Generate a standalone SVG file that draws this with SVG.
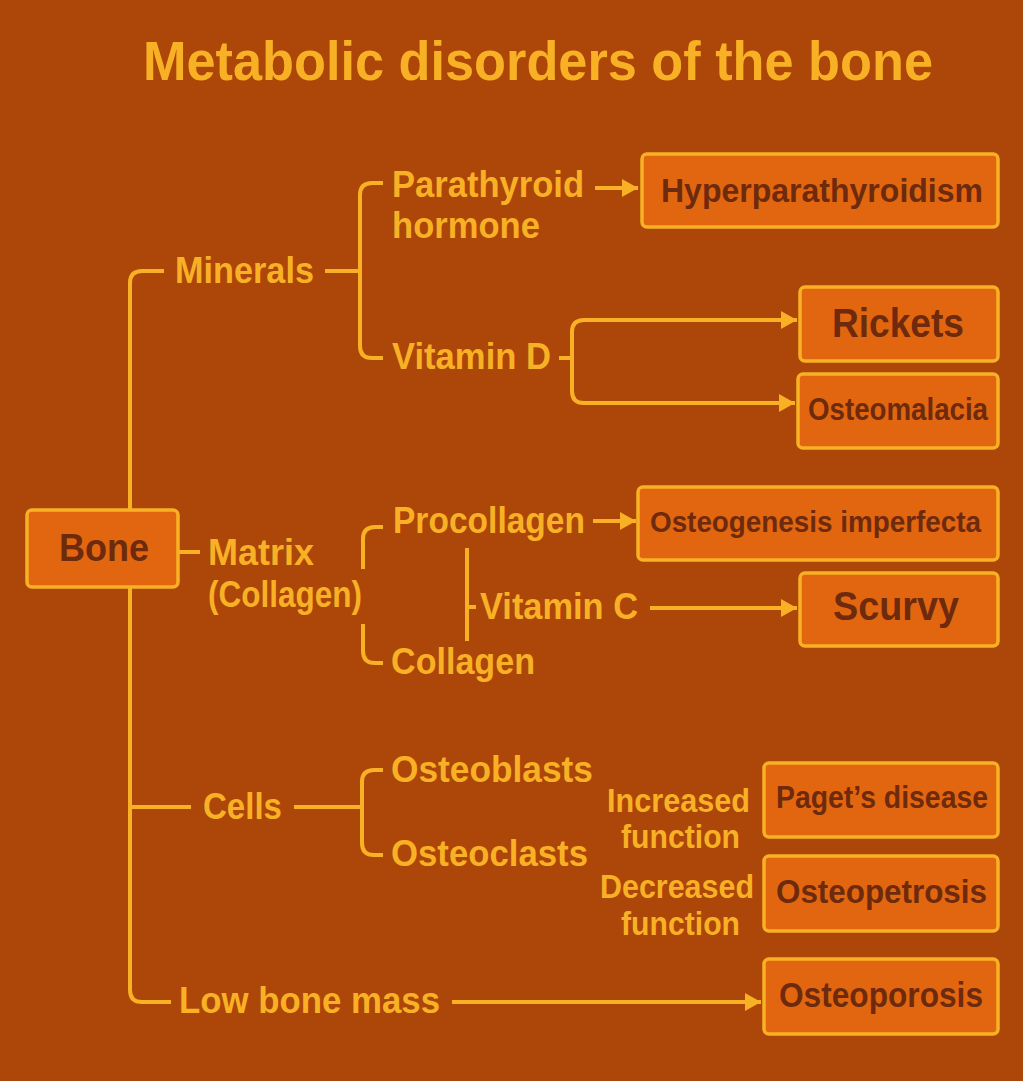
<svg xmlns="http://www.w3.org/2000/svg" width="1023" height="1081" viewBox="0 0 1023 1081">
<defs>
<style>
.bg{fill:#AD4609}
.t{font-family:"Liberation Sans",Arial,sans-serif;font-weight:bold;fill:#F8B125;font-size:36px}
.s{font-size:33px}
.bt{font-family:"Liberation Sans",Arial,sans-serif;font-weight:bold;fill:#6E2A0D}
.box{fill:#E2660F;stroke:#F8B125;stroke-width:3.5}
.ln{fill:none;stroke:#F8B125;stroke-width:4;stroke-linecap:butt;stroke-linejoin:round}
.ar{marker-end:url(#ah)}
</style>
<marker id="ah" markerUnits="userSpaceOnUse" markerWidth="18" markerHeight="20" viewBox="0 0 18 20" refX="16" refY="10" orient="auto">
<path d="M0,1 L16,10 L0,19 Z" fill="#F8B125"/>
</marker>
</defs>
<rect class="bg" x="0" y="0" width="1023" height="1081"/>
<text class="t" x="143" y="80" style="font-size:55px" textLength="790" lengthAdjust="spacingAndGlyphs">Metabolic disorders of the bone</text>

<g id="connectors">
<path class="ln" d="M164,271 H142 Q130,271 130,283 V510"/>
<path class="ln" d="M130,587 V990 Q130,1002 142,1002 H171"/>
<path class="ln" d="M130,807 H191"/>
<path class="ln" d="M325,271 H360"/>
<path class="ln" d="M383,183 H372 Q360,183 360,195 V346 Q360,358 372,358 H383"/>
<path class="ln ar" d="M595,188 H638"/>
<path class="ln" d="M559,358 H572"/>
<path class="ln ar" d="M572,358 V332 Q572,320 584,320 H797"/>
<path class="ln ar" d="M572,358 V391 Q572,403 584,403 H795"/>
<path class="ln" d="M179,552 H200"/>
<path class="ln" d="M363,569 V539 Q363,527 375,527 H383"/>
<path class="ln" d="M363,624 V651 Q363,663 375,663 H383"/>
<path class="ln ar" d="M593,521 H636"/>
<path class="ln" d="M467,548 V641"/>
<path class="ln" d="M467,607 H476"/>
<path class="ln ar" d="M650,608 H797"/>
<path class="ln" d="M294,807 H362"/>
<path class="ln" d="M383,770 H374 Q362,770 362,782 V843 Q362,855 374,855 H383"/>
<path class="ln ar" d="M452,1002 H761"/>
</g>

<g id="bone">
<rect class="box" x="27" y="510" width="151" height="77" rx="5"/>
<text class="bt" x="59" y="561" font-size="38" textLength="90" lengthAdjust="spacingAndGlyphs">Bone</text>
</g>
<g id="minerals"><text class="t" x="175" y="283" textLength="139" lengthAdjust="spacingAndGlyphs">Minerals</text></g>
<g id="parathyroid">
<text class="t" x="392" y="197" textLength="192" lengthAdjust="spacingAndGlyphs">Parathyroid</text>
<text class="t" x="392" y="238" textLength="148" lengthAdjust="spacingAndGlyphs">hormone</text>
</g>
<g id="vitamin-d"><text class="t" x="392" y="369" textLength="159" lengthAdjust="spacingAndGlyphs">Vitamin D</text></g>
<g id="hyperparathyroidism">
<rect class="box" x="642" y="154" width="356" height="73" rx="5"/>
<text class="bt" x="661" y="202" font-size="33" textLength="322" lengthAdjust="spacingAndGlyphs">Hyperparathyroidism</text>
</g>
<g id="rickets">
<rect class="box" x="800" y="287" width="198" height="74" rx="5"/>
<text class="bt" x="832" y="337" font-size="41" textLength="132" lengthAdjust="spacingAndGlyphs">Rickets</text>
</g>
<g id="osteomalacia">
<rect class="box" x="798" y="374" width="200" height="74" rx="5"/>
<text class="bt" x="808" y="420" font-size="31" textLength="180" lengthAdjust="spacingAndGlyphs">Osteomalacia</text>
</g>
<g id="matrix">
<text class="t" x="208" y="565" textLength="106" lengthAdjust="spacingAndGlyphs">Matrix</text>
<text class="t" x="208" y="607" textLength="154" lengthAdjust="spacingAndGlyphs">(Collagen)</text>
</g>
<g id="procollagen"><text class="t" x="393" y="533" textLength="192" lengthAdjust="spacingAndGlyphs">Procollagen</text></g>
<g id="collagen"><text class="t" x="391" y="674" textLength="144" lengthAdjust="spacingAndGlyphs">Collagen</text></g>
<g id="vitamin-c"><text class="t" x="480" y="619" textLength="158" lengthAdjust="spacingAndGlyphs">Vitamin C</text></g>
<g id="osteogenesis-imperfecta">
<rect class="box" x="638" y="487" width="360" height="73" rx="5"/>
<text class="bt" x="650" y="532" font-size="29" textLength="331" lengthAdjust="spacingAndGlyphs">Osteogenesis imperfecta</text>
</g>
<g id="scurvy">
<rect class="box" x="800" y="573" width="198" height="73" rx="5"/>
<text class="bt" x="833" y="620" font-size="40" textLength="126" lengthAdjust="spacingAndGlyphs">Scurvy</text>
</g>
<g id="cells"><text class="t" x="203" y="819" textLength="79" lengthAdjust="spacingAndGlyphs">Cells</text></g>
<g id="osteoblasts"><text class="t" x="391" y="782" textLength="202" lengthAdjust="spacingAndGlyphs">Osteoblasts</text></g>
<g id="osteoclasts"><text class="t" x="391" y="866" textLength="197" lengthAdjust="spacingAndGlyphs">Osteoclasts</text></g>
<g id="increased-function">
<text class="t s" x="607" y="812" textLength="143" lengthAdjust="spacingAndGlyphs">Increased</text>
<text class="t s" x="621" y="848" textLength="119" lengthAdjust="spacingAndGlyphs">function</text>
</g>
<g id="decreased-function">
<text class="t s" x="600" y="898" textLength="154" lengthAdjust="spacingAndGlyphs">Decreased</text>
<text class="t s" x="621" y="935" textLength="119" lengthAdjust="spacingAndGlyphs">function</text>
</g>
<g id="pagets-disease">
<rect class="box" x="764" y="763" width="234" height="74" rx="5"/>
<text class="bt" x="776" y="808" font-size="32" textLength="212" lengthAdjust="spacingAndGlyphs">Paget’s disease</text>
</g>
<g id="osteopetrosis">
<rect class="box" x="764" y="856" width="234" height="75" rx="5"/>
<text class="bt" x="776" y="903" font-size="34" textLength="211" lengthAdjust="spacingAndGlyphs">Osteopetrosis</text>
</g>
<g id="low-bone-mass"><text class="t" x="179" y="1013" textLength="261" lengthAdjust="spacingAndGlyphs">Low bone mass</text></g>
<g id="osteoporosis">
<rect class="box" x="764" y="959" width="234" height="75" rx="5"/>
<text class="bt" x="779" y="1007" font-size="35" textLength="204" lengthAdjust="spacingAndGlyphs">Osteoporosis</text>
</g>
</svg>
